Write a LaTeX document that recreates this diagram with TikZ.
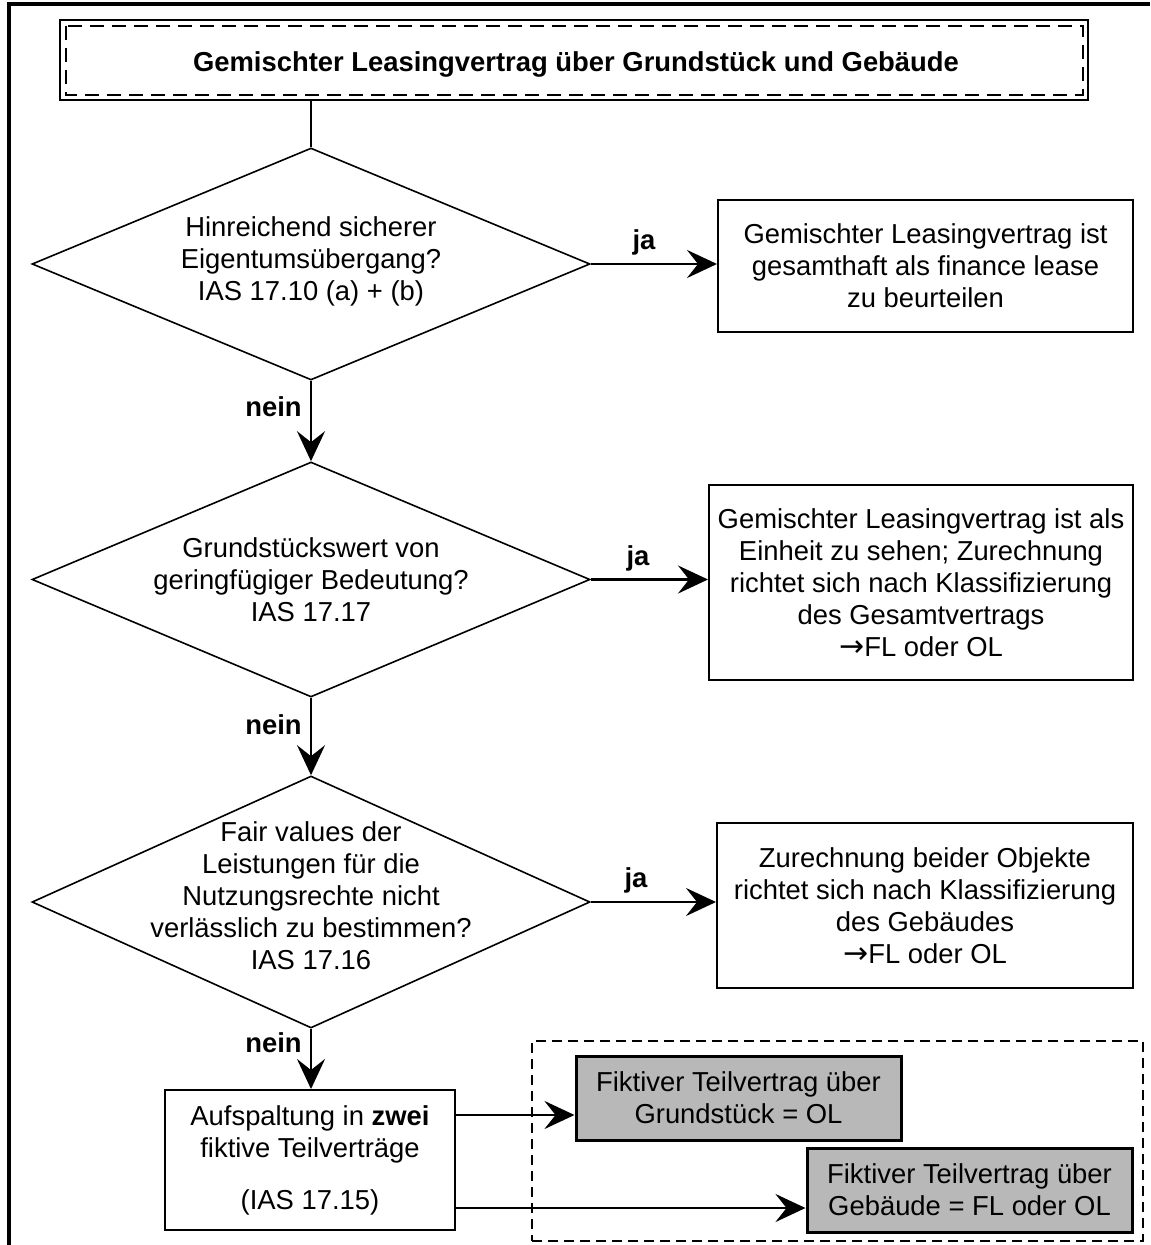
\documentclass[tikz,border=0pt]{standalone}
\usepackage{fontspec}
\setmainfont{Liberation Sans}
\newfontfamily\arrfont{DejaVu Sans}
\usetikzlibrary{arrows.meta,shapes.geometric}
\begin{document}
\begin{tikzpicture}[x=0.5pt,y=-0.5pt,
  every node/.style={font=\fontsize{13.7}{16}\selectfont},
  dia/.style={diamond, draw, line width=0.8pt, inner sep=0pt, minimum width=279pt},
  txt/.style={align=center, inner sep=0pt},
  rbox/.style={draw, line width=1pt, align=center, inner sep=0pt},
  gbox/.style={draw, line width=1.5pt, fill=black!28, align=center, inner sep=0pt, minimum width=162.5pt, minimum height=42pt},
  arr/.style={line width=1.3pt, -{Stealth[length=15pt,width=14pt,inset=5.5pt]}},
  lbl/.style={font=\fontsize{13.7}{16}\selectfont\bfseries, inner sep=0pt},
  dshA/.style={dash pattern=on 7pt off 4pt},
  dshB/.style={dash pattern=on 5pt off 3pt}
]
\useasboundingbox (0,0) rectangle (1150,1245);
% outer frame
\draw[line width=2pt] (9,1245) -- (9,4) -- (1150,4);

% title
\node[draw, line width=1pt, minimum width=514pt, minimum height=40pt, inner sep=0pt] (title) at (574,60) {};
\draw[line width=1pt, dshA] ([shift={(7,7)}]title.north west) rectangle ([shift={(-6,-6)}]title.south east);
\node[txt, font=\fontsize{13.7}{16}\selectfont\bfseries] (tt) at (576,64)
      {Gemischter Leasingvertrag über Grundstück und Gebäude};

% diamonds
\node[dia, minimum height=116pt] (d1) at (311,264) {};
\node[txt] (t1) at (311,261) {Hinreichend sicherer\\Eigentumsübergang?\\IAS 17.10 (a) + (b)};
\node[dia, minimum height=117.5pt] (d2) at (311,579.5) {};
\node[txt] (t2) at (311,580) {Grundstückswert von\\geringfügiger Bedeutung?\\IAS 17.17};
\node[dia, minimum height=126pt] (d3) at (311,902) {};
\node[txt] (t3) at (311,896) {Fair values der\\Leistungen für die\\Nutzungsrechte nicht\\verlässlich zu bestimmen?\\IAS 17.16};

% right boxes
\node[rbox, minimum width=207.5pt, minimum height=66pt] (b1) at (925.5,266)
  {Gemischter Leasingvertrag ist\\gesamthaft als finance lease\\zu beurteilen};
\node[rbox, minimum width=212pt, minimum height=97.5pt] (b2) at (921,582.5)
  {Gemischter Leasingvertrag ist als\\Einheit zu sehen; Zurechnung\\richtet sich nach Klassifizierung\\des Gesamtvertrags\\{\arrfont\fontsize{15}{16}\selectfont →}FL oder OL};
\node[rbox, minimum width=208pt, minimum height=82.5pt] (b3) at (925,905.5)
  {Zurechnung beider Objekte\\richtet sich nach Klassifizierung\\des Gebäudes\\{\arrfont\fontsize{15}{16}\selectfont →}FL oder OL};

% bottom
\node[rbox, minimum width=145pt, minimum height=70pt] (b4) at (310,1160)
  {Aufspaltung in \textbf{zwei}\\fiktive Teilverträge\\[10pt](IAS 17.15)};
\node[draw, dshB, line width=1.2pt, minimum width=305.5pt, minimum height=100pt, inner sep=0pt] (grp) at (837.5,1141) {};
\node[gbox] (g1) at (738.5,1098) {Fiktiver Teilvertrag über\\Grundstück = OL};
\node[gbox] (g2) at (969.5,1190) {Fiktiver Teilvertrag über\\Gebäude = FL oder OL};

% connectors
\draw[line width=0.7pt] (title.south -| d1.north) -- (d1.north);
\draw[arr] (d1.east) -- (d1.east -| b1.west);
\draw[arr] (d2.east) -- (d2.east -| b2.west);
\draw[arr] (d3.east) -- (d3.east -| b3.west);
\draw[arr] (d1.south) -- (d2.north);
\draw[arr] (d2.south) -- (d3.north);
\draw[arr] (d3.south) -- (d3.south |- b4.north);
\draw[arr] (b4.east |- 0,1115) -- (g1.west |- 0,1115);
\draw[arr] (b4.east |- 0,1208) -- (g2.west |- 0,1208);

% labels
\node[lbl] (ja1) at (644,242) {ja};
\node[lbl] (ja2) at (638,558) {ja};
\node[lbl] (ja3) at (636,880) {ja};
\node[lbl, anchor=east] (n1) at (302,407) {nein};
\node[lbl, anchor=east] (n2) at (302,725) {nein};
\node[lbl, anchor=east] (n3) at (302,1043) {nein};
\end{tikzpicture}
\end{document}
